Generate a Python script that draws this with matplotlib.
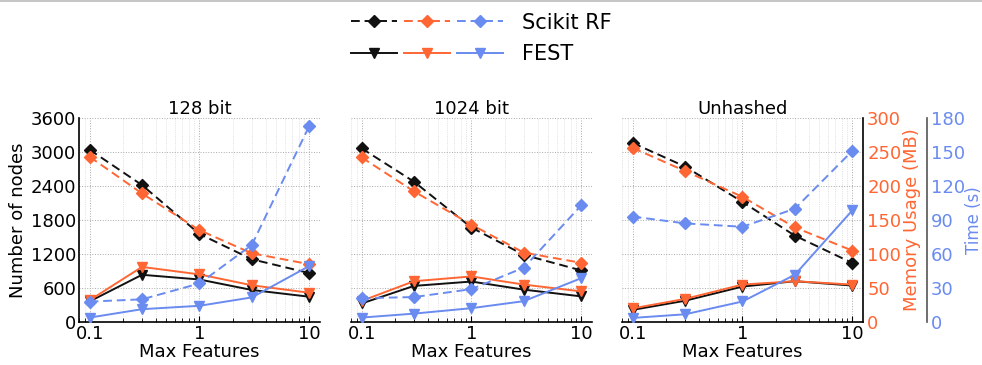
import matplotlib
matplotlib.use("Agg")
import matplotlib.pyplot as plt
from matplotlib.lines import Line2D
from matplotlib.legend_handler import HandlerTuple
import matplotlib.ticker as mticker

plt.rcParams['font.family'] = ['DejaVu Sans']
plt.rcParams['font.size'] = 13

# data
max_features = [0.1, 0.3, 1, 3, 10]
titles = ["128 bit", "1024 bit", "Unhashed"]

# number of nodes
sk_nodes = [[3040, 2416, 1553, 1107, 863],
            [3064, 2475, 1666, 1184, 910],
            [3159, 2743, 2118, 1523, 1041]]
fest_nodes = [[363, 833, 750, 565, 446],
              [327, 637, 714, 571, 452],
              [214, 375, 625, 720, 643]]
# memory usage (MB)
sk_mem = [[243, 189, 135, 101, 85],
          [242, 192, 143, 102, 87],
          [256, 222, 184, 139, 105]]
fest_mem = [[32, 81, 70, 54, 43],
            [31, 60, 67, 55, 45],
            [20, 34, 55, 60, 55]]
# time (s)
sk_time = [[18, 20, 34, 68, 173],
           [21, 22, 29, 48, 103],
           [93, 87, 84, 100, 151]]
fest_time = [[3.9, 11.3, 14.3, 21.7, 49.4],
             [3.9, 7.4, 12.2, 18.4, 38.7],
             [3.6, 6.8, 18.1, 41.7, 98.5]]

BLACK = "#111111"
ORANGE = "#FF6633"
BLUE = "#6A8BEF"

fig = plt.figure(figsize=(9.82, 3.65), dpi=100)
fig.add_artist(Line2D([0, 1], [0.997, 0.997], transform=fig.transFigure,
                      color="#bbbbbb", lw=1.2))

lefts = [0.0804, 0.3574, 0.6334]
w, b, h = 0.2454, 0.1178, 0.559

dash = dict(ls="--", lw=1.4, marker="D", ms=6, dashes=(4.5, 2.5))
solid = dict(ls="-", lw=1.4, marker="v", ms=7)

for i, left in enumerate(lefts):
    ax = fig.add_axes([left, b, w, h])
    ax_m = ax.twinx()
    ax_t = ax.twinx()

    ax.plot(max_features, sk_nodes[i], color=BLACK, **dash)
    ax.plot(max_features, fest_nodes[i], color=BLACK, **solid)
    ax_m.plot(max_features, sk_mem[i], color=ORANGE, **dash)
    ax_m.plot(max_features, fest_mem[i], color=ORANGE, **solid)
    ax_t.plot(max_features, sk_time[i], color=BLUE, **dash)
    ax_t.plot(max_features, fest_time[i], color=BLUE, **solid)

    ax.set_xscale("log")
    ax.set_xlim(0.08, 12.5)
    ax.set_ylim(0, 3600)
    ax_m.set_ylim(0, 300)
    ax_t.set_ylim(0, 180)

    ax.set_xticks([0.1, 1, 10])
    ax.xaxis.set_major_formatter(mticker.FuncFormatter(lambda v, p: f"{v:g}"))
    ax.xaxis.set_minor_locator(mticker.LogLocator(subs=range(2, 10)))
    ax.xaxis.set_minor_formatter(mticker.NullFormatter())
    ax.set_yticks(range(0, 3601, 600))
    ax.tick_params(axis="both", direction="in", length=0, pad=2)
    ax.tick_params(axis="x", which="minor", direction="in", length=3, width=0.6)
    ax.tick_params(axis="x", which="major", direction="in", length=4, width=0.8)
    ax.grid(True, which="major", ls=":", lw=0.7, color="#aaaaaa")
    ax.grid(True, which="minor", axis="x", ls=":", lw=0.5, color="#cccccc")
    ax.set_xlabel("Max Features", labelpad=0)
    ax.set_title(titles[i], fontsize=13, pad=3)

    for s in ["top", "right"]:
        ax.spines[s].set_visible(False)
    ax.spines["bottom"].set_linewidth(1.2)
    if i == 0:
        ax.spines["left"].set_linewidth(1.2)
        ax.set_ylabel("Number of nodes", labelpad=3)
    else:
        ax.spines["left"].set_visible(False)
        ax.tick_params(axis="y", labelleft=False)

    for a in (ax_m, ax_t):
        for s in ["top", "left", "bottom"]:
            a.spines[s].set_visible(False)

    if i == 2:
        ax_m.spines["right"].set_linewidth(1.2)
        ax_m.set_yticks(range(0, 301, 50))
        ax_m.tick_params(axis="y", length=0, pad=3, colors=ORANGE, labelsize=13)
        ax_m.set_ylabel("Memory Usage (MB)", color=ORANGE, labelpad=1)
        ax_t.spines["right"].set_position(("axes", 1.265))
        ax_t.spines["right"].set_color("#555555")
        ax_t.spines["right"].set_linewidth(1.2)
        ax_t.set_yticks(range(0, 181, 30))
        ax_t.tick_params(axis="y", length=0, pad=3, colors=BLUE, labelsize=13)
        ax_t.set_ylabel("Time (s)", color=BLUE, labelpad=0, fontsize=12)
    else:
        ax_m.axis("off")
        ax_t.axis("off")

sk_handles = tuple(Line2D([], [], color=c, **dash) for c in (BLACK, ORANGE, BLUE))
fest_handles = tuple(Line2D([], [], color=c, **solid) for c in (BLACK, ORANGE, BLUE))
fig.legend([sk_handles, fest_handles], ["Scikit RF", "FEST"],
           handler_map={tuple: HandlerTuple(ndivide=None, pad=0.3)},
           loc="center", bbox_to_anchor=(0.49, 0.895), frameon=False,
           handlelength=7.3, fontsize=15, labelspacing=0.55, handletextpad=0.9)

fig.savefig("out.png", dpi=100)
